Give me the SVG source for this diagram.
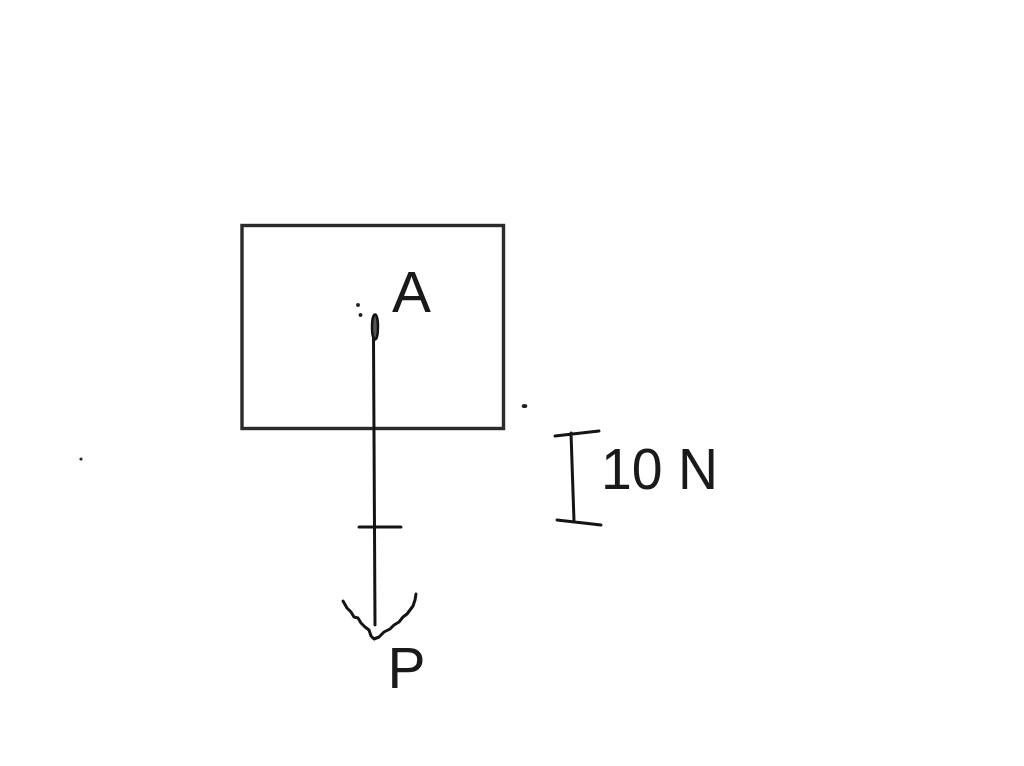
<svg xmlns="http://www.w3.org/2000/svg" width="1024" height="766" viewBox="0 0 1024 766">
<style>
.ink{fill:none;stroke:#151515;stroke-width:3;stroke-linecap:round;stroke-linejoin:round}
.lbl{font-family:"Liberation Sans",Arial,sans-serif;font-size:57px;fill:#1a1a1a}
.dot{fill:#222}
</style>
<rect width="1024" height="766" fill="#fff"/>
<g id="block"><rect x="242" y="225.500" width="261.500" height="203" fill="none" stroke="#2b2b2b" stroke-width="3.400"/></g>
<g id="point-a"><ellipse cx="375" cy="327" rx="3" ry="12.500" fill="#555" stroke="#111" stroke-width="2.400"/>
<circle class="dot" cx="358" cy="305" r="2"/><circle class="dot" cx="360.500" cy="315" r="2"/>
<text class="lbl" x="392" y="312" textLength="39" lengthAdjust="spacingAndGlyphs">A</text></g>
<g id="connectors">
<path class="ink" d="M373.500 338L375 625"/>
<path class="ink" d="M359 527H401"/>
<path class="ink" d="M343 601L347 608L351 612L354 617L358 618L361 623L365 627L369 630L371 636L374 639L379 637L384 632L390 629L394 625L399 622L403 617L407 614L410 610L413 606L415 600L416 594"/>
</g>
<g id="scale">
<path class="ink" d="M555 436L599 431M571 433L574 521M557 520L601 525"/>
<text class="lbl" x="601" y="489" textLength="117" lengthAdjust="spacingAndGlyphs">10 N</text></g>
<g id="force-label"><text class="lbl" x="387.500" y="688">P</text></g>
<g id="specks"><ellipse class="dot" cx="524.500" cy="406" rx="2.800" ry="2"/><circle class="dot" cx="81" cy="459" r="1.600"/></g>
</svg>
